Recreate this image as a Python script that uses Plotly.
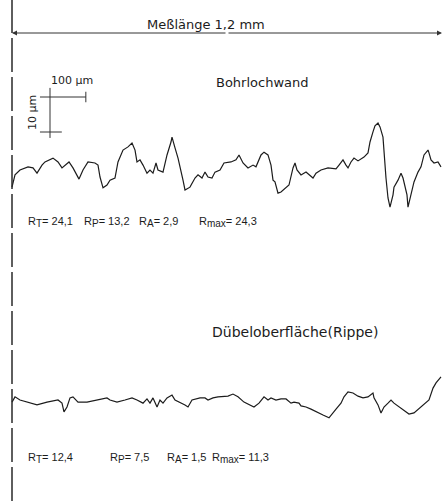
import plotly.graph_objects as go

# Profile 1: Bohrlochwand — trace position along the measured length (µm) and profile height (µm)
bohrloch_x = [0, 8.4, 22.3, 44.7, 58.6, 69.8, 83.7, 92.1, 114.4, 128.4, 139.5, 147.9, 159.1, 170.2,
              187.0, 198.1, 212.1, 231.6, 240.0, 245.6, 254.0, 265.1, 273.5, 287.4, 295.8, 309.8,
              323.7, 334.9, 343.3, 348.8, 357.2, 365.6, 376.7, 385.1, 393.5, 401.9, 407.4, 421.4,
              432.6, 443.7, 446.5, 454.9, 463.3, 477.2, 482.8, 496.7, 510.7, 519.1, 530.2, 538.6,
              547.0, 558.1, 566.5, 580.5, 591.6, 611.2, 625.1, 633.5, 644.7, 658.6, 672.6, 680.9,
              694.9, 703.3, 714.4, 722.8, 728.4, 733.9, 742.3, 750.7, 764.7, 773.0, 784.2, 789.8,
              795.3, 806.5, 820.5, 828.8, 840.0, 848.4, 862.3, 881.9, 904.2, 912.6, 923.7, 932.1,
              937.7, 946.0, 954.4, 965.6, 982.3, 993.5, 999.1, 1007.4, 1013.0, 1021.4, 1027.0,
              1035.3, 1038.1, 1043.7, 1049.3, 1054.9, 1063.3, 1066.0, 1077.2, 1085.6, 1091.2,
              1096.7, 1102.3, 1105.1, 1113.5, 1121.9, 1133.0, 1141.4, 1149.8, 1161.0, 1163.7,
              1169.3, 1177.7, 1188.8, 1197.2]
bohrloch_z = [-4.9, -1.4, 0.0, 0.9, 0.6, -0.9, 1.4, 2.3, 3.4, 2.3, 0.6, 1.4, 2.3, 0.6,
              -2.6, 0.0, 2.3, 2.0, 1.4, -2.0, -5.1, -4.3, -2.9, -2.3, 2.3, 5.7,
              6.6, 7.7, 5.7, 2.3, 2.9, 1.4, -0.9, 0.0, -0.9, 2.0, 0.0, -0.6,
              4.3, 8.0, 9.4, 6.3, 3.4, -2.9, -5.7, -4.9, -2.3, -1.4, -2.3, -0.6,
              -2.0, -2.3, -0.6, 0.0, 2.0, 2.3, 2.9, 4.3, 2.0, 0.6, 1.4, 0.9,
              4.3, 5.1, 4.3, 1.4, -2.9, -3.4, -6.6, -6.3, -5.1, -4.3, 0.6, 2.0,
              0.0, -1.4, -0.6, -1.4, -2.3, -0.9, 0.0, 0.6, 0.3, 1.4, 2.9, 1.4,
              0.6, 2.3, 3.4, 2.6, 3.7, 4.9, 8.0, 10.9, 12.6, 13.4, 12.3,
              9.4, 4.3, -2.3, -8.0, -10.6, -7.1, -4.9, -2.9, -0.9, -2.3,
              -4.3, -7.1, -10.6, -7.1, -3.4, -0.6, 0.9, 4.3, 5.7, 4.9,
              2.9, 2.0, 2.3, 0.9]

# Profile 2: Dübeloberfläche (Rippe)
duebel_x = [0, 8.4, 22.3, 41.9, 69.8, 97.7, 128.4, 139.5, 145.1, 153.5, 161.9, 170.2, 184.2, 209.3,
            237.2, 265.1, 273.5, 293.0, 315.3, 334.9, 348.8, 362.8, 365.6, 376.7, 385.1, 393.5,
            404.7, 413.0, 421.4, 432.6, 446.5, 454.9, 468.8, 482.8, 491.2, 502.3, 524.7, 538.6,
            547.0, 560.9, 574.9, 583.3, 602.8, 616.7, 630.7, 647.4, 675.3, 689.3, 703.3, 714.4,
            722.8, 736.7, 750.7, 764.7, 778.6, 787.0, 800.9, 806.5, 820.5, 834.4, 854.0, 867.9,
            884.7, 890.2, 904.2, 918.1, 926.5, 937.7, 951.6, 965.6, 979.5, 993.5, 1007.4, 1010.2,
            1021.4, 1029.8, 1038.1, 1049.3, 1057.7, 1066.0, 1080.0, 1093.9, 1107.9, 1121.9,
            1141.4, 1155.3, 1163.7, 1174.9, 1183.3, 1197.2]
duebel_z = [-0.6, 0.9, 0.0, -0.6, -1.4, -0.6, 0.0, -0.9, -3.4, -2.0, 0.6, 0.9, -0.6, -0.6,
            0.0, 0.6, 0.0, -0.6, 0.0, 0.6, 0.0, -0.6, -0.9, 0.3, -0.9, 0.6,
            -2.0, 0.0, -0.9, 0.6, 1.4, 0.0, -0.6, -1.4, -2.0, 0.0, 0.6, 0.6,
            0.0, 0.6, 0.9, 0.9, 1.1, 1.7, 0.9, -0.6, -2.0, -0.9, 0.9, 0.0,
            0.6, 0.0, 0.3, 0.3, -0.9, -0.6, -0.9, -1.7, -2.0, -2.6, -3.7, -4.3,
            -5.1, -4.3, -2.6, -0.9, 0.9, 2.3, 2.0, 1.1, 0.6, 0.9, 2.0, 0.6,
            -1.4, -3.7, -2.0, -0.9, 0.0, -0.9, -2.0, -3.1, -4.0, -3.7,
            -2.0, -0.9, 0.0, 3.4, 4.9, 6.6]

# Roughness parameters (µm)
param_subs = ["T", "P", "A", "max"]
bohrloch_params = [24.1, 13.2, 2.9, 24.3]
duebel_params = [12.4, 7.5, 1.5, 11.3]

measure_length_um = 1200
scale_x_um = 100
scale_z_um = 10

# ---- page geometry ----
W, H = 442, 501
X0_PX = 12                      # left reference edge of the trace
PX_PER_UM_X = (W - X0_PX) / measure_length_um
PX_PER_UM_Z = 3.5
TOP_MEAN_PX = 170
BOT_MEAN_PX = 400

INK = "#1c1c1c"
FONT = "DejaVu Sans"
FONT_PARAMS = "Liberation Sans"


def px_x(px):
    return (px - X0_PX) / PX_PER_UM_X


def zrange(mean_px):
    return [(mean_px - H) / PX_PER_UM_Z, mean_px / PX_PER_UM_Z]


def ztop(py):
    return (TOP_MEAN_PX - py) / PX_PER_UM_Z


def paper(px, py):
    return px / W, 1 - py / H


fig = go.Figure()
fig.add_trace(go.Scatter(x=bohrloch_x, y=bohrloch_z, mode="lines", yaxis="y",
                         line=dict(color=INK, width=1.2), hoverinfo="skip", showlegend=False))
fig.add_trace(go.Scatter(x=duebel_x, y=duebel_z, mode="lines", yaxis="y2",
                         line=dict(color=INK, width=1.2), hoverinfo="skip", showlegend=False))

shapes = []
# broken left reference line
shapes.append(dict(type="line", xref="x", yref="paper", x0=0, x1=0, y0=0, y1=1,
                   line=dict(color="#2a2a2a", width=1.5, dash="34px,5px")))

# scale cross (top profile axis)
sx0 = px_x(50)
sz0 = ztop(97)
shapes += [
    dict(type="line", xref="x", yref="y", x0=sx0 - 28, x1=sx0 + scale_x_um, y0=sz0, y1=sz0,
         line=dict(color="#333", width=1)),
    dict(type="line", xref="x", yref="y", x0=sx0, x1=sx0, y0=sz0 + 2.6, y1=sz0 - scale_z_um - 1.7,
         line=dict(color="#333", width=1)),
    dict(type="line", xref="x", yref="y", x0=sx0 + scale_x_um, x1=sx0 + scale_x_um,
         y0=sz0 + 1.5, y1=sz0 - 1.5, line=dict(color="#333", width=1)),
    dict(type="line", xref="x", yref="y", x0=sx0 - 28, x1=sx0 + 33,
         y0=sz0 - scale_z_um, y1=sz0 - scale_z_um, line=dict(color="#333", width=1)),
]

annotations = []
# dimension line with arrows
dim_z = ztop(33)
for head in (0, measure_length_um):
    annotations.append(dict(x=head, y=dim_z, xref="x", yref="y",
                            ax=measure_length_um / 2, ay=dim_z, axref="x", ayref="y",
                            showarrow=True, arrowhead=2, arrowsize=1, arrowwidth=1,
                            arrowcolor="#333", text=""))


def label(text, px, py, size=12, xanchor="center", angle=0, family=FONT):
    x, y = paper(px, py)
    annotations.append(dict(text=text, x=x, y=y, xref="paper", yref="paper",
                            xanchor=xanchor, yanchor="middle", showarrow=False, textangle=angle,
                            font=dict(family=family, size=size, color=INK)))


label("Meßlänge 1,2 mm", 206, 24, size=13)
label("100 µm", 72, 80, size=11)
label("10 µm", 33, 113, size=11, angle=-90)
label("Bohrlochwand", 262, 82, size=13)
label("Dübeloberfläche(Rippe)", 295, 332, size=14)


def fmt(v):
    return f"{v:.1f}".replace(".", ",")


for values, py, xs in ((bohrloch_params, 222, (26, 82, 137, 197)),
                       (duebel_params, 458, (26, 108, 165, 210))):
    for sub, v, px in zip(param_subs, values, xs):
        label(f"R<sub><span style='font-size:10px'>{sub}</span></sub>= {fmt(v)}",
              px, py, size=11, xanchor="left", family=FONT_PARAMS)

fig.update_layout(
    width=W, height=H, margin=dict(l=0, r=0, t=0, b=0),
    paper_bgcolor="white", plot_bgcolor="white",
    xaxis=dict(range=[px_x(0), px_x(W)], visible=False, fixedrange=True),
    yaxis=dict(range=zrange(TOP_MEAN_PX), visible=False, fixedrange=True),
    yaxis2=dict(range=zrange(BOT_MEAN_PX), visible=False, overlaying="y", fixedrange=True),
    shapes=shapes, annotations=annotations, showlegend=False,
)

fig.write_html("out.html")
